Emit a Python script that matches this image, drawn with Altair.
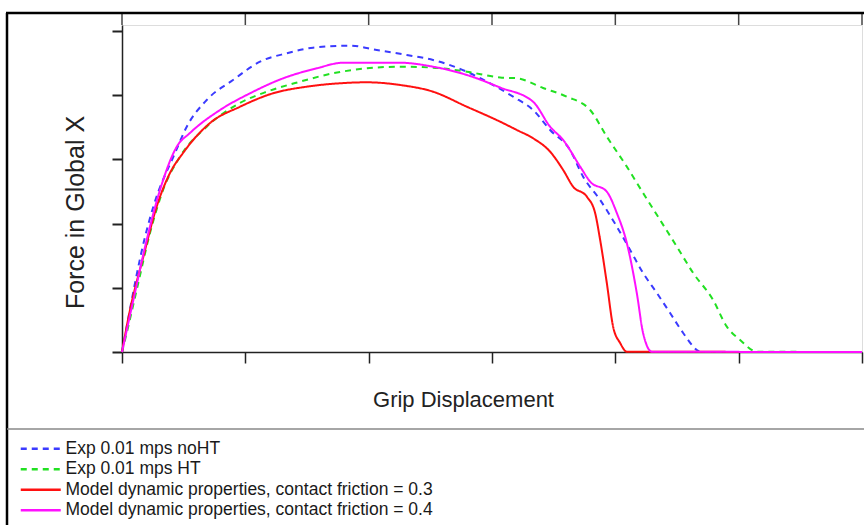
import altair as alt
import pandas as pd

names = ["Exp 0.01 mps noHT", "Exp 0.01 mps HT",
         "Model dynamic properties, contact friction = 0.3",
         "Model dynamic properties, contact friction = 0.4"]
colors = ["#3b3bff", "#22e022", "#ff1010", "#ff10ff"]
dashes = [[6, 5], [6, 5], [1, 0], [1, 0]]

blue_x = [0, 0.038, 0.187, 0.254, 0.430, 0.525, 0.687, 0.900, 1.119, 1.335, 1.549, 1.849, 2.066,
          2.309, 2.522, 2.796, 3.009, 3.171, 3.333, 3.471, 3.633, 3.739, 3.877, 4.012, 4.120,
          4.225, 4.337, 4.444, 4.550, 4.661, 4.688, 6.0]
blue_y = [0, 0.394, 1.795, 2.262, 3.098, 3.507, 3.923, 4.234, 4.519, 4.650, 4.737, 4.768, 4.701,
          4.623, 4.545, 4.363, 4.156, 3.974, 3.767, 3.456, 3.144, 2.729, 2.366, 1.951, 1.588,
          1.230, 0.918, 0.607, 0.296, 0.031, 0, 0]

green_x = [0, 0.038, 0.119, 0.227, 0.333, 0.470, 0.687, 0.957, 1.174, 1.444, 1.711, 1.985, 2.255,
           2.522, 2.796, 3.066, 3.201, 3.414, 3.607, 3.796, 3.931, 4.093, 4.225, 4.363, 4.499,
           4.631, 4.793, 4.904, 5.012, 5.148, 6.0]
green_y = [0, 0.296, 0.965, 1.852, 2.522, 3.040, 3.507, 3.876, 4.052, 4.208, 4.338, 4.416, 4.441,
           4.426, 4.363, 4.273, 4.261, 4.110, 3.974, 3.767, 3.352, 2.885, 2.475, 2.055, 1.639,
           1.230, 0.809, 0.394, 0.187, 0.005, 0]

red_x = [0, 0.065, 0.173, 0.281, 0.389, 0.495, 0.714, 0.957, 1.225, 1.498, 1.768, 1.985, 2.255,
         2.522, 2.796, 3.066, 3.201, 3.333, 3.471, 3.577, 3.658, 3.769, 3.836, 3.877, 3.931,
         3.982, 4.039, 4.093, 6.0]
red_y = [0, 0.654, 1.483, 2.262, 2.786, 3.098, 3.565, 3.818, 4.027, 4.130, 4.183, 4.198, 4.156,
         4.052, 3.818, 3.585, 3.456, 3.327, 3.118, 2.833, 2.573, 2.418, 2.164, 1.743, 1.074,
         0.394, 0.140, 0.005, 0]

mag_x = [0, 0.092, 0.200, 0.308, 0.444, 0.551, 0.795, 1.038, 1.308, 1.579, 1.795, 2.255, 2.522,
         2.796, 3.066, 3.333, 3.471, 3.577, 3.715, 3.796, 3.931, 4.012, 4.093, 4.174, 4.225,
         4.296, 6.0]
mag_y = [0, 0.809, 1.743, 2.522, 3.196, 3.409, 3.767, 4.027, 4.261, 4.416, 4.503, 4.503, 4.441,
         4.312, 4.117, 3.896, 3.507, 3.300, 2.885, 2.651, 2.495, 2.164, 1.697, 0.918, 0.296,
         0.005, 0]

x_ticks = [0, 1, 2, 3, 4, 5, 6]
y_ticks = [0, 1, 2, 3, 4, 5]

rows = []
for name, xs, ys in zip(names, [blue_x, green_x, red_x, mag_x], [blue_y, green_y, red_y, mag_y]):
    for i, (xv, yv) in enumerate(zip(xs, ys)):
        rows.append({"series": name, "x": xv, "y": yv, "i": i})
df = pd.DataFrame(rows)

FONT = "Liberation Sans"

legend_cfg = dict(orient="none", legendX=-90, legendY=415, title=None,
                  symbolType="M-4,0L4,0", symbolSize=100, symbolStrokeWidth=2.5,
                  labelOffset=16, labelFontSize=17.5, labelFont=FONT, labelColor="#1a1a1a",
                  rowPadding=1.5, padding=0, labelLimit=0)

lines = alt.Chart(df).mark_line(strokeWidth=2, interpolate="monotone").encode(
    x=alt.X("x:Q", scale=alt.Scale(domain=[0, 6], nice=False, zero=False),
            axis=alt.Axis(values=x_ticks, labels=False, tickSize=11, tickWidth=1.5,
                          tickColor="#222", domainColor="#222", domainWidth=1.5, grid=False,
                          title="Grip Displacement", titleFontSize=22, titleFont=FONT,
                          titleFontWeight="normal", titleColor="#222", titleX=341, titleY=54,
                          titleAlign="center", titleBaseline="alphabetic")),
    y=alt.Y("y:Q", scale=alt.Scale(domain=[0, 5.09], nice=False),
            axis=alt.Axis(values=y_ticks, labels=False, tickSize=10, tickWidth=2,
                          tickColor="#222", domainColor="#222", domainWidth=1.5, grid=False,
                          title="Force in Global X", titleFontSize=25, titleFont=FONT,
                          titleFontWeight="normal", titleColor="#222", titleX=-47, titleY=187,
                          titleAngle=270, titleAlign="center", titleBaseline="middle")),
    color=alt.Color("series:N", scale=alt.Scale(domain=names, range=colors),
                    legend=alt.Legend(**legend_cfg)),
    strokeDash=alt.StrokeDash("series:N", scale=alt.Scale(domain=names, range=dashes),
                              legend=alt.Legend(**legend_cfg)),
    order=alt.Order("i:Q"),
)

top_ticks = alt.Chart(pd.DataFrame({"t": x_ticks})).mark_rule(color="#444", strokeWidth=1.5).encode(
    x="t:Q", y=alt.value(-12), y2=alt.value(0))

one = pd.DataFrame({"a": [0]})
top_frame = alt.Chart(one).mark_rule(color="black", strokeWidth=2.5).encode(
    x=alt.value(-116), x2=alt.value(742), y=alt.value(-12))
left_frame = alt.Chart(one).mark_rule(color="black", strokeWidth=2.5).encode(
    x=alt.value(-115), y=alt.value(-12), y2=alt.value(500))
sep = alt.Chart(one).mark_rule(color="#888", strokeWidth=1.5).encode(
    x=alt.value(-115), x2=alt.value(742), y=alt.value(404))

chart = alt.layer(lines, top_ticks, top_frame, left_frame, sep).properties(
    width=740, height=327,
    autosize=alt.AutoSizeParams(type="none"),
    padding={"left": 122, "top": 25, "right": 2, "bottom": 173},
    background="white",
).configure_view(stroke="#777", strokeWidth=1).configure(font=FONT)

chart.save("out.html", embed_options={"renderer": "svg", "actions": False})
